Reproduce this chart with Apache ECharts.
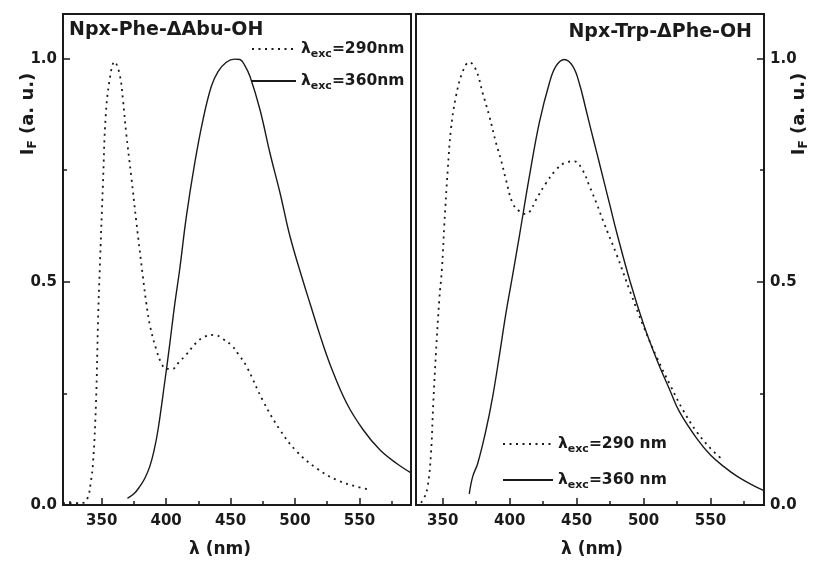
<!DOCTYPE html>
<html>
<head>
<meta charset="utf-8">
<script src="https://cdn.jsdelivr.net/npm/echarts@6/dist/echarts.min.js"></script>
<style>
html,body{margin:0;padding:0;background:#fff;}
#chart{width:815px;height:563px;}
</style>
</head>
<body>
<div id="chart"></div>
<script>
// ---- Data ----
const leftTitle = 'Npx-Phe-ΔAbu-OH';
const rightTitle = 'Npx-Trp-ΔPhe-OH';
const xTickValues = [350, 400, 450, 500, 550];
const xMinorValues = [325, 375, 425, 475, 525, 575];
const yTickValues = [0, 0.5, 1.0];
const yMinorValues = [0.25, 0.75];

// Left panel, excitation 290 nm (dotted)
const leftExc290X = [320, 330, 336, 339.4, 341.5, 343.3, 345.6, 347.2, 348.5, 351, 353.1, 356.2, 360, 364, 366.5, 369, 373, 377, 382, 384.6, 387.7, 392.4, 396, 400, 405, 410, 415.4, 423.2, 430, 437.7, 444, 451, 456, 462.5, 475.4, 488.4, 501.3, 516.8, 532.4, 547.9, 557];
const leftExc290Y = [0.004, 0.004, 0.005, 0.018, 0.05, 0.094, 0.229, 0.415, 0.527, 0.72, 0.87, 0.953, 0.993, 0.964, 0.908, 0.834, 0.735, 0.632, 0.511, 0.453, 0.399, 0.348, 0.32, 0.305, 0.305, 0.32, 0.336, 0.363, 0.377, 0.381, 0.372, 0.357, 0.338, 0.31, 0.232, 0.168, 0.12, 0.082, 0.056, 0.041, 0.035];
// Left panel, excitation 360 nm (solid)
const leftExc360X = [370, 375, 379.5, 383.5, 387.3, 390.5, 393.7, 398.9, 402.8, 406.7, 410.5, 415.7, 422.2, 428.6, 435.1, 440.3, 446.7, 453.2, 457.3, 461, 465.1, 472.8, 480.6, 488.4, 496.1, 506.4, 511.6, 519.4, 527.2, 540.1, 553, 566, 578.9, 590];
const leftExc360Y = [0.015, 0.025, 0.041, 0.06, 0.086, 0.12, 0.168, 0.275, 0.36, 0.45, 0.527, 0.646, 0.766, 0.863, 0.938, 0.971, 0.992, 0.999, 0.998, 0.985, 0.96, 0.886, 0.788, 0.699, 0.602, 0.5, 0.452, 0.38, 0.315, 0.228, 0.168, 0.123, 0.093, 0.072];

// Right panel, excitation 290 nm (dotted)
const rightExc290X = [333.7, 336, 338.7, 341.2, 342.9, 344.9, 347.4, 349.4, 351.2, 353.7, 356.1, 359.9, 364.9, 369.8, 374.8, 379.8, 384.8, 389.8, 393.5, 397.2, 402.2, 407.2, 411, 414.7, 419.7, 427.1, 434.6, 440.8, 448.3, 454.5, 459.5, 465, 470, 480, 490, 500, 510, 520, 530, 540, 550, 560];
const rightExc290Y = [0.005, 0.015, 0.041, 0.116, 0.228, 0.34, 0.46, 0.53, 0.63, 0.75, 0.841, 0.916, 0.971, 0.992, 0.975, 0.923, 0.871, 0.811, 0.773, 0.729, 0.676, 0.658, 0.652, 0.656, 0.684, 0.721, 0.751, 0.766, 0.77, 0.75, 0.715, 0.675, 0.635, 0.56, 0.478, 0.4, 0.33, 0.268, 0.21, 0.163, 0.127, 0.099];
// Right panel, excitation 360 nm (solid)
const rightExc360X = [369.8, 372.4, 376.1, 382.3, 387.3, 392.2, 397.2, 402.2, 407.2, 414.7, 422.1, 429.6, 434.6, 440.8, 447.1, 452, 457, 460.7, 465, 470, 475, 480, 490, 500, 510, 520, 527, 540, 550, 560, 570, 580, 590];
const rightExc360Y = [0.025, 0.064, 0.093, 0.168, 0.243, 0.333, 0.43, 0.515, 0.602, 0.736, 0.856, 0.945, 0.983, 0.998, 0.983, 0.945, 0.886, 0.841, 0.79, 0.73, 0.67, 0.61, 0.5, 0.405, 0.325, 0.255, 0.208, 0.148, 0.112, 0.086, 0.064, 0.047, 0.032];

const leftNames = ['λexc=290nm', 'λexc=360nm'];
const rightNames = ['λexc=290 nm', 'λexc=360 nm'];

// ---- Helpers ----
const zip = (xs, ys) => xs.map((x, i) => [x, ys[i]]);
const FONT = 'DejaVu Sans, Liberation Sans, sans-serif';
const INK = '#1a1a1a';

const legendRich = {
  m: {fontSize: 15.5, fontWeight: 'bold', fontFamily: FONT, color: INK, lineHeight: 22},
  s: {fontSize: 11, fontWeight: 'bold', fontFamily: FONT, color: INK, lineHeight: 11, verticalAlign: 'bottom'}
};
const legendFmt = name => '{m|λ}{s|exc}{m|' + name.replace('λexc', '') + '}';

const yNameRich = {
  i: {fontSize: 18, fontWeight: 'bold', fontFamily: FONT, color: INK, lineHeight: 22},
  f: {fontSize: 12, fontWeight: 'bold', fontFamily: FONT, color: INK, lineHeight: 12, verticalAlign: 'bottom'},
  n: {fontSize: 18, fontWeight: 'bold', fontFamily: FONT, color: INK, lineHeight: 22}
};
const yName = '{i|I}{f|F}{n| (a. u.)}';

function xMajor(grid, min, padding) {
  return {
    type: 'value', gridIndex: grid, min: min, max: 590, position: 'bottom',
    name: 'λ (nm)', nameLocation: 'middle', nameGap: 36, nameMoveOverlap: false,
    nameTextStyle: {fontSize: 17, fontWeight: 'bold', fontFamily: FONT, color: INK, padding: padding},
    axisLine: {show: true, lineStyle: {color: INK, width: 2}},
    axisTick: {show: true, inside: true, length: 7, customValues: xTickValues, lineStyle: {color: INK, width: 1.5}},
    axisLabel: {show: true, customValues: xTickValues, margin: 9, fontSize: 15, fontWeight: 'bold', fontFamily: FONT, color: INK},
    splitLine: {show: false}
  };
}
function xMinor(grid, min) {
  return {
    type: 'value', gridIndex: grid, min: min, max: 590, position: 'bottom',
    axisLine: {show: false},
    axisTick: {show: true, inside: true, length: 4, customValues: xMinorValues, lineStyle: {color: INK, width: 1.5}},
    axisLabel: {show: false, customValues: xMinorValues},
    splitLine: {show: false}
  };
}
function yMajor(grid, pos, gap, padding) {
  return {
    type: 'value', gridIndex: grid, min: 0, max: 1.1, position: pos,
    name: yName, nameLocation: 'middle', nameRotate: 90, nameGap: gap, nameMoveOverlap: false,
    nameTextStyle: {rich: yNameRich, padding: padding},
    axisLine: {show: true, lineStyle: {color: INK, width: 2}},
    axisTick: {show: true, inside: true, length: 7, customValues: yTickValues, lineStyle: {color: INK, width: 1.5}},
    axisLabel: {show: true, customValues: yTickValues, margin: 6, fontSize: 15, fontWeight: 'bold', fontFamily: FONT, color: INK,
      formatter: v => v.toFixed(1)},
    splitLine: {show: false}
  };
}
function yMinor(grid, pos) {
  return {
    type: 'value', gridIndex: grid, min: 0, max: 1.1, position: pos,
    axisLine: {show: false},
    axisTick: {show: true, inside: true, length: 4, customValues: yMinorValues, lineStyle: {color: INK, width: 1.5}},
    axisLabel: {show: false, customValues: yMinorValues},
    splitLine: {show: false}
  };
}
function lineSeries(name, xi, yi, xs, ys, dotted) {
  return {
    type: 'line', name: name, xAxisIndex: xi, yAxisIndex: yi,
    data: zip(xs, ys), showSymbol: false, symbol: 'none', smooth: 0.4,
    lineStyle: dotted ? {color: INK, width: 1.8, type: [2, 4.5]} : {color: INK, width: 1.4, type: 'solid'},
    itemStyle: {color: INK},
    emphasis: {disabled: true}, silent: true, z: 3
  };
}
const hiddenIcon = {color: 'rgba(0,0,0,0)', borderWidth: 0, opacity: 0};

const chart = echarts.init(document.getElementById('chart'), null, {renderer: 'canvas'});
chart.setOption({
  animation: false,
  backgroundColor: '#ffffff',
  title: [
    {text: leftTitle, left: 69, top: 21, padding: 0,
     textStyle: {fontSize: 19, fontWeight: 'bold', fontFamily: FONT, color: INK}},
    {text: rightTitle, right: 63, top: 23, padding: 0,
     textStyle: {fontSize: 19, fontWeight: 'bold', fontFamily: FONT, color: INK}}
  ],
  grid: [
    {left: 63, right: 404, top: 14, bottom: 58, show: true, borderColor: INK, borderWidth: 2, backgroundColor: 'transparent', outerBoundsMode: 'none', containLabel: false},
    {left: 416, right: 51, top: 14, bottom: 58, show: true, borderColor: INK, borderWidth: 2, backgroundColor: 'transparent', outerBoundsMode: 'none', containLabel: false}
  ],
  xAxis: [xMajor(0, 320, [0, 34, 0, 0]), xMinor(0, 320), xMajor(1, 330, [0, 0, 0, 4]), xMinor(1, 330)],
  yAxis: [yMajor(0, 'left', 24, [0, 0, 0, 291]), yMinor(0, 'left'), yMajor(1, 'right', 24, [0, 0, 0, 291]), yMinor(1, 'right')],
  legend: [
    {data: leftNames, orient: 'vertical', left: 251, top: 41, padding: 0, itemWidth: 44, itemHeight: 14, itemGap: 13,
     selectedMode: false, formatter: legendFmt, textStyle: {rich: legendRich}, itemStyle: hiddenIcon},
    {data: rightNames, orient: 'vertical', left: 502, top: 436, padding: 0, itemWidth: 50, itemHeight: 14, itemGap: 17,
     selectedMode: false, formatter: legendFmt, textStyle: {rich: legendRich}, itemStyle: hiddenIcon}
  ],
  series: [
    lineSeries(leftNames[0], 0, 0, leftExc290X, leftExc290Y, true),
    lineSeries(leftNames[1], 0, 0, leftExc360X, leftExc360Y, false),
    lineSeries(rightNames[0], 2, 2, rightExc290X, rightExc290Y, true),
    lineSeries(rightNames[1], 2, 2, rightExc360X, rightExc360Y, false)
  ]
});
</script>
</body>
</html>
